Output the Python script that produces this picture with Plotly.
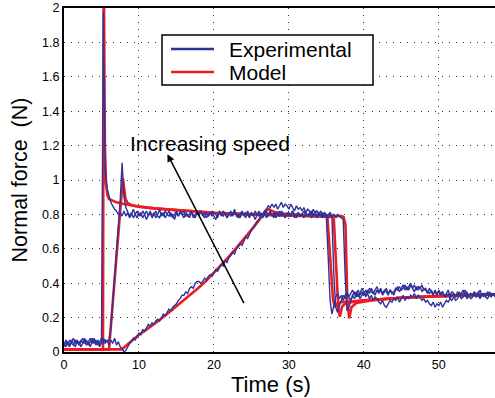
import plotly.graph_objects as go

# ---------------- data ----------------
x_ticks = [0, 10, 20, 30, 40, 50]
y_ticks = [0, 0.2, 0.4, 0.6, 0.8, 1.0, 1.2, 1.4, 1.6, 1.8, 2.0]
y_ticktext = ["0", "0.2", "0.4", "0.6", "0.8", "1", "1.2", "1.4", "1.6", "1.8", "2"]

# Model curves (red)
model_a_t = [0, 5.2, 5.3, 5.45, 5.6, 5.8, 6.0, 7.0, 8.0, 10.0, 12.0, 15.0, 20.0, 25.0,
             30.0, 35.0, 35.15, 35.9, 36.15, 36.4, 37.0, 40.0, 45.0, 50.0, 57.5]
model_a_y = [0.015, 0.015, 2.3, 1.2, 0.98, 0.91, 0.89, 0.87, 0.86, 0.845, 0.835, 0.825, 0.81, 0.80,
             0.795, 0.79, 0.78, 0.30, 0.26, 0.28, 0.29, 0.30, 0.315, 0.325, 0.335]

model_b_t = [0, 6.0, 7.85, 8.0, 8.2, 8.5, 9.0, 10.0, 12.0, 15.0, 20.0, 25.0, 30.0, 35.0,
             35.85, 36.0, 36.6, 36.8, 37.1, 37.6, 40.0, 45.0, 50.0, 57.5]
model_b_y = [0.015, 0.015, 1.01, 0.95, 0.89, 0.865, 0.855, 0.845, 0.835, 0.825, 0.81, 0.80, 0.795, 0.79,
             0.785, 0.77, 0.25, 0.205, 0.265, 0.285, 0.30, 0.315, 0.325, 0.335]

model_c_t = [0, 7.7, 8.5, 9, 10, 11, 12, 13, 14, 15, 16, 17, 18, 19, 20, 21, 22, 23, 24, 25, 26,
             27, 27.3, 28, 29, 30, 33, 37.0, 37.3, 37.55, 37.8, 38.05, 38.35, 39.0, 41.0, 45.0, 50.0, 57.5]
model_c_y = [0.015, 0.015, 0.045, 0.065, 0.10, 0.13, 0.16, 0.195, 0.23, 0.265, 0.30, 0.335, 0.375,
             0.415, 0.46, 0.51, 0.555, 0.605, 0.655, 0.71, 0.765,
             0.825, 0.83, 0.815, 0.805, 0.80, 0.795, 0.79, 0.785, 0.74, 0.30, 0.195, 0.26, 0.285, 0.30,
             0.315, 0.325, 0.335]

# Experimental curves (blue): one reading every 0.25 s, starting at t = 0 (8 readings per row = 2 s)
SAMPLE_DT = 0.25

exp_a_y = [0.05, 0.03, 0.06, 0.04, 0.07, 0.05, 0.03, 0.06,
           0.04, 0.07, 0.05, 0.08, 0.04, 0.06, 0.03, 0.06,
           0.08, 0.05, 0.07, 0.04, 0.06, 1.98, 1.06, 0.95,
           0.90, 0.87, 0.85, 0.83, 0.82, 0.80, 0.81, 0.79,
           0.82, 0.79, 0.81, 0.78, 0.80, 0.83, 0.80, 0.78,
           0.81, 0.79, 0.82, 0.80, 0.77, 0.80, 0.82, 0.79,
           0.81, 0.78, 0.80, 0.83, 0.79, 0.81, 0.78, 0.80,
           0.82, 0.79, 0.80, 0.77, 0.81, 0.79, 0.82, 0.80,
           0.78, 0.81, 0.79, 0.80, 0.82, 0.78, 0.80, 0.81,
           0.79, 0.82, 0.80, 0.78, 0.81, 0.79, 0.80, 0.82,
           0.79, 0.77, 0.80, 0.81, 0.79, 0.82, 0.80, 0.78,
           0.81, 0.79, 0.80, 0.83, 0.79, 0.80, 0.78, 0.81,
           0.80, 0.78, 0.82, 0.79, 0.81, 0.80, 0.77, 0.80,
           0.82, 0.79, 0.80, 0.81, 0.78, 0.80, 0.82, 0.79,
           0.81, 0.78, 0.80, 0.79, 0.82, 0.80, 0.78, 0.81,
           0.79, 0.80, 0.82, 0.78, 0.80, 0.81, 0.79, 0.80,
           0.78, 0.81, 0.79, 0.80, 0.82, 0.79, 0.80, 0.78,
           0.80, 0.79, 0.81, 0.79, 0.78, 0.55, 0.30, 0.22,
           0.27, 0.32, 0.34, 0.31, 0.33, 0.30, 0.33, 0.35,
           0.32, 0.34, 0.36, 0.33, 0.35, 0.32, 0.34, 0.37,
           0.35, 0.33, 0.36, 0.34, 0.37, 0.35, 0.33, 0.36,
           0.34, 0.36, 0.33, 0.35, 0.37, 0.34, 0.36, 0.35,
           0.33, 0.36, 0.38, 0.35, 0.37, 0.39, 0.36, 0.38,
           0.36, 0.39, 0.37, 0.35, 0.38, 0.36, 0.38, 0.35,
           0.37, 0.36, 0.34, 0.37, 0.35, 0.33, 0.36, 0.34,
           0.35, 0.33, 0.35, 0.32, 0.34, 0.36, 0.33, 0.35,
           0.34, 0.32, 0.35, 0.33, 0.34, 0.36, 0.33, 0.35,
           0.32, 0.34, 0.33, 0.35, 0.32, 0.34, 0.36, 0.33,
           0.34, 0.32, 0.35, 0.33, 0.34, 0.33, 0.34]

exp_b_y = [0.04, 0.07, 0.05, 0.03, 0.06, 0.08, 0.05, 0.07,
           0.04, 0.06, 0.08, 0.05, 0.07, 0.04, 0.06, 0.08,
           0.05, 0.07, 0.04, 0.06, 0.08, 0.05, 0.07, 0.06,
           0.07, 0.14, 0.28, 0.42, 0.57, 0.72, 0.88, 1.10,
           0.90, 0.84, 0.81, 0.79, 0.81, 0.78, 0.80, 0.82,
           0.79, 0.81, 0.78, 0.80, 0.82, 0.79, 0.81, 0.78,
           0.80, 0.82, 0.79, 0.78, 0.81, 0.79, 0.82, 0.80,
           0.79, 0.81, 0.78, 0.80, 0.82, 0.79, 0.81, 0.80,
           0.82, 0.79, 0.80, 0.78, 0.81, 0.80, 0.78, 0.81,
           0.80, 0.82, 0.79, 0.81, 0.78, 0.80, 0.81, 0.79,
           0.81, 0.80, 0.78, 0.82, 0.80, 0.79, 0.81, 0.78,
           0.80, 0.82, 0.79, 0.81, 0.80, 0.78, 0.80, 0.82,
           0.79, 0.81, 0.80, 0.78, 0.81, 0.79, 0.82, 0.80,
           0.79, 0.81, 0.78, 0.80, 0.82, 0.79, 0.81, 0.80,
           0.78, 0.81, 0.80, 0.82, 0.79, 0.81, 0.78, 0.80,
           0.81, 0.79, 0.82, 0.80, 0.78, 0.81, 0.79, 0.80,
           0.82, 0.80, 0.79, 0.81, 0.78, 0.80, 0.82, 0.79,
           0.81, 0.80, 0.78, 0.81, 0.79, 0.80, 0.81, 0.78,
           0.45, 0.26, 0.23, 0.27, 0.30, 0.33, 0.31, 0.34,
           0.32, 0.30, 0.33, 0.35, 0.32, 0.34, 0.31, 0.33,
           0.35, 0.32, 0.34, 0.31, 0.33, 0.30, 0.32, 0.31,
           0.29, 0.28, 0.30, 0.27, 0.26, 0.28, 0.30, 0.29,
           0.31, 0.30, 0.32, 0.29, 0.31, 0.33, 0.30, 0.32,
           0.31, 0.33, 0.32, 0.34, 0.31, 0.33, 0.32, 0.30,
           0.31, 0.29, 0.30, 0.28, 0.27, 0.29, 0.26, 0.28,
           0.27, 0.29, 0.26, 0.28, 0.30, 0.29, 0.31, 0.30,
           0.32, 0.30, 0.31, 0.33, 0.31, 0.32, 0.34, 0.31,
           0.33, 0.31, 0.32, 0.34, 0.32, 0.33, 0.31, 0.33,
           0.34, 0.32, 0.31, 0.33, 0.32, 0.34, 0.32]

exp_c_y = [0.03, 0.06, 0.04, 0.07, 0.05, 0.04, 0.07, 0.05,
           0.06, 0.03, 0.05, 0.07, 0.04, 0.06, 0.08, 0.05,
           0.07, 0.04, 0.06, 0.03, 0.06, 0.08, 0.05, 0.07,
           0.04, 0.07, 0.05, 0.08, 0.04, 0.06, 0.03, 0.02,
           0.00, 0.01, 0.03, 0.05, 0.06, 0.08, 0.07, 0.09,
           0.11, 0.10, 0.13, 0.12, 0.14, 0.16, 0.15, 0.17,
           0.16, 0.18, 0.19, 0.18, 0.20, 0.22, 0.21, 0.23,
           0.25, 0.24, 0.26, 0.27, 0.28, 0.30, 0.31, 0.33,
           0.33, 0.35, 0.34, 0.37, 0.38, 0.37, 0.40, 0.41,
           0.41, 0.40, 0.41, 0.43, 0.42, 0.44, 0.45, 0.44,
           0.46, 0.48, 0.47, 0.49, 0.51, 0.50, 0.53, 0.52,
           0.55, 0.56, 0.58, 0.57, 0.60, 0.61, 0.63, 0.62,
           0.65, 0.67, 0.66, 0.69, 0.71, 0.72, 0.74, 0.76,
           0.77, 0.79, 0.80, 0.82, 0.83, 0.85, 0.84, 0.86,
           0.84, 0.86, 0.83, 0.85, 0.87, 0.84, 0.86, 0.85,
           0.83, 0.86, 0.84, 0.82, 0.85, 0.83, 0.84, 0.82,
           0.84, 0.81, 0.83, 0.82, 0.80, 0.83, 0.81, 0.82,
           0.80, 0.82, 0.79, 0.81, 0.80, 0.78, 0.81, 0.79,
           0.80, 0.78, 0.80, 0.79, 0.78, 0.77, 0.45, 0.24,
           0.26, 0.30, 0.33, 0.31, 0.34, 0.36, 0.33, 0.35,
           0.33, 0.36, 0.34, 0.37, 0.35, 0.34, 0.36, 0.38,
           0.35, 0.37, 0.34, 0.36, 0.35, 0.33, 0.36, 0.34,
           0.35, 0.37, 0.36, 0.38, 0.36, 0.37, 0.39, 0.36,
           0.38, 0.40, 0.37, 0.39, 0.36, 0.38, 0.37, 0.39,
           0.36, 0.37, 0.35, 0.34, 0.36, 0.34, 0.35, 0.33,
           0.36, 0.34, 0.35, 0.33, 0.32, 0.34, 0.31, 0.33,
           0.34, 0.32, 0.33, 0.35, 0.33, 0.34, 0.36, 0.33,
           0.32, 0.34, 0.33, 0.35, 0.33, 0.35, 0.32, 0.34,
           0.32, 0.34, 0.33, 0.35, 0.33, 0.34, 0.33]

# ---------------- styling ----------------
W, H = 495, 398
ML, MR, MT, MB = 64, 0, 8, 46
PW, PH = W - ML - MR, H - MT - MB
BLUE = "#30339a"
RED = "#ed1c24"
FONT = "Liberation Sans, Arial, Helvetica, sans-serif"


def px(xp):
    return (xp - ML) / PW


def py(yp):
    return (H - MB - yp) / PH


def sample_times(values):
    return [i * SAMPLE_DT for i in range(len(values))]


fig = go.Figure()
for t, y in [(model_a_t, model_a_y), (model_b_t, model_b_y), (model_c_t, model_c_y)]:
    fig.add_trace(go.Scatter(x=t, y=y, mode="lines", name="Model", showlegend=False,
                             line=dict(color=RED, width=2.6)))
for y in [exp_a_y, exp_b_y, exp_c_y]:
    fig.add_trace(go.Scatter(x=sample_times(y), y=y, mode="lines", name="Experimental",
                             showlegend=False, line=dict(color=BLUE, width=1.4)))

grid = dict(showgrid=True, gridcolor="#333333", griddash="1px,6px", gridwidth=1, zeroline=False,
            showline=True, linecolor="black", linewidth=2, ticks="")
fig.update_xaxes(range=[0, 57.5], tickvals=x_ticks, mirror=True,
                 tickfont=dict(size=12.5, family=FONT, color="black"), **grid)
fig.update_yaxes(range=[0, 2], tickvals=y_ticks, ticktext=y_ticktext,
                 tickfont=dict(size=12.5, family=FONT, color="black"),
                 title=dict(text="Normal force\u00a0\u00a0(N)", font=dict(size=21.5, family=FONT, color="black"),
                            standoff=9), **grid)

shapes = [
    dict(type="rect", xref="paper", yref="paper", x0=px(162), x1=px(373), y0=py(85), y1=py(35),
         line=dict(color="black", width=1.5), fillcolor="white", layer="above"),
    dict(type="line", xref="paper", yref="paper", x0=px(171), x1=px(214), y0=py(49), y1=py(49),
         line=dict(color=BLUE, width=2.3), layer="above"),
    dict(type="line", xref="paper", yref="paper", x0=px(171), x1=px(214), y0=py(72), y1=py(72),
         line=dict(color=RED, width=2.3), layer="above"),
]

annotations = [
    dict(text="Experimental", xref="paper", yref="paper", x=px(227), y=py(49), xanchor="left",
         yanchor="middle", showarrow=False, font=dict(size=21, family=FONT, color="black")),
    dict(text="Model", xref="paper", yref="paper", x=px(227), y=py(72), xanchor="left",
         yanchor="middle", showarrow=False, font=dict(size=21, family=FONT, color="black")),
    dict(text="Time (s)", xref="paper", yref="paper", x=px(270.5), y=py(384), xanchor="center",
         yanchor="middle", showarrow=False, font=dict(size=22, family=FONT, color="black")),
    dict(text="Increasing speed", x=19.5, y=1.215, xref="x", yref="y", showarrow=False,
         font=dict(size=21, family=FONT, color="black")),
    dict(text="", x=13.8, y=1.15, ax=24.1, ay=0.275, xref="x", yref="y", axref="x", ayref="y",
         showarrow=True, arrowhead=2, arrowsize=1, arrowwidth=1.5, arrowcolor="black"),
]

fig.update_layout(width=W, height=H, margin=dict(l=ML, r=MR, t=MT, b=MB, pad=0),
                  plot_bgcolor="white", paper_bgcolor="white",
                  font=dict(family=FONT, color="black"),
                  showlegend=False, shapes=shapes, annotations=annotations)

# remove the browser's default 8px page margin so the figure sits at the window's corner
fig.write_html("out.html", config={"displayModeBar": False},
               post_script="document.body.style.margin='0px';document.body.style.overflow='hidden';")
